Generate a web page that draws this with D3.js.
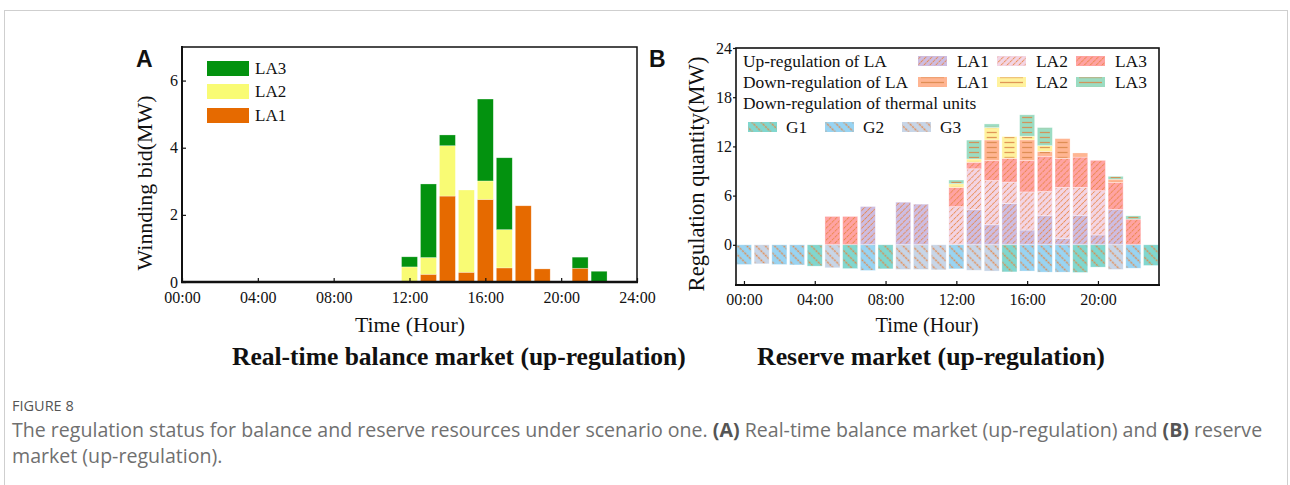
<!DOCTYPE html>
<html><head><meta charset="utf-8">
<script src="https://cdn.jsdelivr.net/npm/d3@7"></script>
<style>body{margin:0;background:#fff}svg{display:block}</style>
</head><body>
<svg id="c" width="1290" height="485"></svg>
<script>
// ---------- DATA: panel A (real-time balance market) ----------
const hoursA = [12, 13, 14, 15, 16, 17, 18, 19, 21, 22];
const aLA1 = [0, 0.23, 2.56, 0.29, 2.46, 0.42, 2.27, 0.39, 0.41, 0];
const aLA2 = [0.45, 0.50, 1.50, 2.45, 0.55, 1.14, 0, 0, 0, 0];
const aLA3 = [0.30, 2.19, 0.32, 0, 2.44, 2.14, 0, 0, 0.33, 0.32];
const xTicksA = [0, 4, 8, 12, 16, 20, 24];
const xTickLabelsA = ["00:00", "04:00", "08:00", "12:00", "16:00", "20:00", "24:00"];
const yTicksA = [0, 2, 4, 6];

// ---------- DATA: panel B (reserve market) ----------
const hoursB = [0,1,2,3,4,5,6,7,8,9,10,11,12,13,14,15,16,17,18,19,20,21,22,23];
const upLA1   = [0,0,0,0,0,0,0,4.67,0,5.2,4.96,0,0,4.27,2.44,5.05,1.8,3.54,0.8,3.6,1.2,4.3,0,0];
const upLA2   = [0,0,0,0,0,0,0,0,0,0,0,0,4.65,5.0,5.4,2.6,4.65,2.96,6.2,3.4,5.4,0,0,0];
const upLA3   = [0,0,0,0,0,3.46,3.46,0,0,0,0,0,2.35,0.8,2.45,2.9,3.85,4.3,3.55,3.7,3.7,3.3,3.13,0];
const downLA1 = [0,0,0,0,0,0,0,0,0,0,0,0,0,0,2.5,0,2.5,0.6,2.4,0.5,0,0.4,0,0];
const downLA2 = [0,0,0,0,0,0,0,0,0,0,0,0,0.45,0.4,1.5,2.65,0.45,0.7,0,0,0,0,0,0];
const downLA3 = [0,0,0,0,0,0,0,0,0,0,0,0,0.45,2.3,0.45,0,2.6,2.2,0,0,0,0.35,0.4,0];
const G1 = [0,0,0,0,-2.6,0,-2.9,0,-2.93,0,0,0,0,0,0,-3.3,0,0,0,-3.37,-2.72,0,0,-2.52];
const G2 = [-2.4,0,-2.4,-2.45,0,0,0,-3.13,0,0,0,0,-2.93,0,0,0,-3.2,-3.33,-3.33,0,0,0,-2.85,0];
const G3 = [0,-2.32,0,0,0,-2.8,0,0,0,-3.0,-3.0,-3.05,0,-3.1,-3.2,0,0,0,0,0,0,-3.0,0,0];
const xTicksB = [0, 4, 8, 12, 16, 20];
const xTickLabelsB = ["00:00", "04:00", "08:00", "12:00", "16:00", "20:00"];
const yTicksB = [0, 6, 12, 18, 24];

// ---------- drawing ----------
const svg = d3.select("#c");
const serif = "'Liberation Serif','Times New Roman',serif";
const sans = "'Open Sans','Noto Sans',sans-serif";
const defs = svg.append("defs");

svg.append("rect").attr("x", 4.5).attr("y", 10.5).attr("width", 1283).attr("height", 500)
  .attr("fill", "none").attr("stroke", "#cfcfcf");

function fit(sel, target) {
  const w = sel.node().getComputedTextLength();
  const s = parseFloat(sel.attr("font-size"));
  sel.attr("font-size", (s * target / w).toFixed(2));
  return sel;
}
function title(x, y, t, len, rot) {
  const el = svg.append("text").attr("text-anchor", "middle").attr("font-family", serif)
    .attr("font-size", 20).attr("fill", "#111").text(t);
  el.attr("transform", rot ? `translate(${x},${y}) rotate(-90)` : `translate(${x},${y})`);
  return fit(el, len);
}

// ===== Panel A =====
const xA = d3.scaleLinear().domain([0, 24]).range([182, 637]);
const yA = d3.scaleLinear().domain([0, 7]).range([282, 47]);
const colA = {LA1: "#e66a00", LA2: "#f9fb74", LA3: "#03920f"};
const rowsA = hoursA.map((h, i) => ({h, LA1: aLA1[i], LA2: aLA2[i], LA3: aLA3[i]}));
const stA = d3.stack().keys(["LA1", "LA2", "LA3"])(rowsA);
const gA = svg.append("g");
stA.forEach(layer => {
  gA.selectAll(null).data(layer.filter(d => d[1] - d[0] > 0)).enter().append("rect")
    .attr("x", d => xA(d.data.h - 0.42))
    .attr("width", d => xA(d.data.h + 0.42) - xA(d.data.h - 0.42))
    .attr("y", d => yA(d[1]))
    .attr("height", d => yA(d[0]) - yA(d[1]))
    .attr("fill", colA[layer.key])
    .attr("stroke", "rgba(255,255,255,0.45)").attr("stroke-width", 0.6);
});
// axes A
const axA = svg.append("g").attr("transform", "translate(0,282)")
  .call(d3.axisBottom(xA).tickValues(xTicksA).tickFormat((d, i) => xTickLabelsA[i]).tickSize(-4).tickPadding(10));
const ayA = svg.append("g").attr("transform", "translate(182,0)")
  .call(d3.axisLeft(yA).tickValues(yTicksA).tickFormat(d3.format("d")).tickSize(-4).tickPadding(4));
[axA, ayA].forEach(a => {
  a.select(".domain").remove();
  a.selectAll("text").attr("font-family", serif).attr("font-size", 16).attr("fill", "#111");
  a.selectAll("line").attr("stroke", "#111").attr("stroke-width", 1.2);
});
svg.append("rect").attr("x", 182).attr("y", 47).attr("width", 455).attr("height", 235)
  .attr("fill", "none").attr("stroke", "#111").attr("stroke-width", 1.5);
svg.append("line").attr("x1", 182).attr("x2", 182).attr("y1", 46).attr("y2", 283).attr("stroke", "#111").attr("stroke-width", 2);
svg.append("line").attr("x1", 181).attr("x2", 638).attr("y1", 282).attr("y2", 282).attr("stroke", "#111").attr("stroke-width", 2.4);
// legend A
[["LA3", 61], ["LA2", 84], ["LA1", 108]].forEach(([k, y]) => {
  svg.append("rect").attr("x", 207).attr("y", y).attr("width", 42).attr("height", 15).attr("fill", colA[k]);
  svg.append("text").attr("x", 255).attr("y", y + 13).attr("font-family", serif).attr("font-size", 17).attr("fill", "#111").text(k);
});
title(410, 332, "Time (Hour)", 110, false);
title(152, 183, "Winnding bid(MW)", 175, true);
svg.append("text").attr("x", 136).attr("y", 67).attr("font-family", "'Liberation Sans',Arial,sans-serif")
  .attr("font-weight", "bold").attr("font-size", 23).attr("fill", "#111").text("A");

// ===== Panel B =====
const xB = d3.scaleLinear().domain([-0.45, 23.45]).range([736, 1159]);
const yB = d3.scaleLinear().domain([-4.9, 24]).range([285, 48]);
const hatch = "#e8823e";
function linePattern(id, angle, size, width, dash) {
  const p = defs.append("pattern").attr("id", id).attr("patternUnits", "userSpaceOnUse")
    .attr("width", size).attr("height", size).attr("patternTransform", `rotate(${angle})`);
  const l = p.append("line").attr("x1", size / 2).attr("x2", size / 2).attr("y1", 0).attr("y2", size)
    .attr("stroke", hatch).attr("stroke-width", width);
  if (dash) l.attr("stroke-dasharray", dash);
}
linePattern("pUp", 45, 4.2, 1, "1.6,0.8");
linePattern("pG", -45, 6.5, 1.5, "2.2,0.9");
const ph = defs.append("pattern").attr("id", "pDown").attr("patternUnits", "userSpaceOnUse")
  .attr("width", 10).attr("height", 5);
ph.append("line").attr("x1", 0).attr("x2", 10).attr("y1", 2.5).attr("y2", 2.5).attr("stroke", "#d9874a").attr("stroke-width", 1.3);

const series = [
  {key: "upLA1", vals: upLA1, color: "#cdbde3", pat: "pUp"},
  {key: "upLA2", vals: upLA2, color: "#f3d5e5", pat: "pUp"},
  {key: "upLA3", vals: upLA3, color: "#ffa3a3", pat: "pUp"},
  {key: "downLA1", vals: downLA1, color: "#ffb592", pat: "pDown"},
  {key: "downLA2", vals: downLA2, color: "#fff29e", pat: "pDown"},
  {key: "downLA3", vals: downLA3, color: "#9bdcc2", pat: "pDown"},
  {key: "G1", vals: G1, color: "#80d7cf", pat: "pG"},
  {key: "G2", vals: G2, color: "#98d4f3", pat: "pG"},
  {key: "G3", vals: G3, color: "#c7d5e7", pat: "pG"}
];
const rowsB = hoursB.map((h, i) => {
  const r = {h};
  series.forEach(s => r[s.key] = s.vals[i]);
  return r;
});
const stB = d3.stack().keys(series.map(s => s.key)).offset(d3.stackOffsetDiverging)(rowsB);
const gB = svg.append("g");
stB.forEach((layer, li) => {
  const s = series[li];
  const segs = layer.filter(d => Math.abs(d[1] - d[0]) > 0);
  const x0 = d => xB(d.data.h - 0.425), x1 = d => xB(d.data.h + 0.425);
  const top = d => yB(Math.max(d[0], d[1])), bot = d => yB(Math.min(d[0], d[1]));
  gB.selectAll(null).data(segs).enter().append("rect")
    .attr("x", x0).attr("width", d => x1(d) - x0(d))
    .attr("y", top).attr("height", d => bot(d) - top(d))
    .attr("fill", s.color).attr("stroke", "rgba(255,255,255,0.5)").attr("stroke-width", 0.6);
  const inset = s.pat === "pDown" ? 2.5 : 0.6;
  gB.selectAll(null).data(segs).enter().append("rect")
    .attr("x", d => x0(d) + inset).attr("width", d => x1(d) - x0(d) - 2 * inset)
    .attr("y", d => top(d) + 0.6).attr("height", d => Math.max(0, bot(d) - top(d) - 1.2))
    .attr("fill", `url(#${s.pat})`).attr("opacity", 0.85);
});
// axes B
const axB = svg.append("g").attr("transform", "translate(0,285)")
  .call(d3.axisBottom(xB).tickValues(xTicksB).tickFormat((d, i) => xTickLabelsB[i]).tickSize(-4).tickPadding(9));
const ayB = svg.append("g").attr("transform", "translate(736,0)")
  .call(d3.axisLeft(yB).tickValues(yTicksB).tickFormat(d3.format("d")).tickSize(3).tickPadding(1));
[axB, ayB].forEach(a => {
  a.select(".domain").remove();
  a.selectAll("text").attr("font-family", serif).attr("font-size", 16).attr("fill", "#111");
  a.selectAll("line").attr("stroke", "#111").attr("stroke-width", 1.2);
});
svg.append("rect").attr("x", 736).attr("y", 48).attr("width", 423).attr("height", 237)
  .attr("fill", "none").attr("stroke", "#111").attr("stroke-width", 1.6);
svg.append("line").attr("x1", 735).attr("x2", 1160).attr("y1", 285).attr("y2", 285).attr("stroke", "#111").attr("stroke-width", 2.2);
// legend B
function swatch(x, y, s) {
  svg.append("rect").attr("x", x).attr("y", y).attr("width", 29).attr("height", 10).attr("fill", s.color);
  const ins = s.pat === "pDown" ? 3 : 0.5;
  svg.append("rect").attr("x", x + ins).attr("y", y + 0.5).attr("width", 29 - 2 * ins).attr("height", 9)
    .attr("fill", `url(#${s.pat})`).attr("opacity", 0.85);
}
function ltext(x, y, t) {
  svg.append("text").attr("x", x).attr("y", y).attr("font-family", serif).attr("font-size", 17.4).attr("fill", "#111").text(t);
}
ltext(743, 67, "Up-regulation of LA");
ltext(743, 88, "Down-regulation of LA");
ltext(743, 109, "Down-regulation of thermal units");
const lx = [918, 997, 1076], lt = [957, 1036, 1115], names = ["LA1", "LA2", "LA3"];
[0, 1, 2].forEach(i => {
  swatch(lx[i], 56, series[i]); ltext(lt[i], 67, names[i]);
  swatch(lx[i], 77, series[3 + i]); ltext(lt[i], 88, names[i]);
});
const gx = [748, 825, 902], gt = [786, 863, 940], gn = ["G1", "G2", "G3"];
[0, 1, 2].forEach(i => { swatch(gx[i], 122, series[6 + i]); ltext(gt[i], 133, gn[i]); });

title(927, 332, "Time (Hour)", 103, false);
title(704, 174, "Regulation quantity(MW)", 235, true);
svg.append("text").attr("x", 649).attr("y", 67).attr("font-family", "'Liberation Sans',Arial,sans-serif")
  .attr("font-weight", "bold").attr("font-size", 23).attr("fill", "#111").text("B");

// ===== titles =====
const t1 = svg.append("text").attr("x", 232).attr("y", 365).attr("font-family", serif).attr("font-weight", "bold")
  .attr("font-size", 22).attr("fill", "#111").text("Real-time balance market (up-regulation)");
fit(t1, 454);
const t2 = svg.append("text").attr("x", 757).attr("y", 365).attr("font-family", serif).attr("font-weight", "bold")
  .attr("font-size", 22).attr("fill", "#111").text("Reserve market (up-regulation)");
fit(t2, 348);

// ===== caption =====
svg.append("text").attr("x", 12).attr("y", 411).attr("font-family", sans).attr("font-size", 14.5)
  .attr("fill", "#555").text("FIGURE 8");
const c1 = svg.append("text").attr("x", 12).attr("y", 437).attr("font-family", sans).attr("font-size", 16).attr("fill", "#707070");
c1.append("tspan").text("The regulation status for balance and reserve resources under scenario one. ");
c1.append("tspan").attr("font-weight", "bold").attr("fill", "#555").text("(A)");
c1.append("tspan").text(" Real-time balance market (up-regulation) and ");
c1.append("tspan").attr("font-weight", "bold").attr("fill", "#555").text("(B)");
c1.append("tspan").text(" reserve");
const sz = parseFloat(c1.attr("font-size")) * 1251 / c1.node().getComputedTextLength();
c1.attr("font-size", sz.toFixed(2));
svg.append("text").attr("x", 12).attr("y", 463).attr("font-family", sans).attr("font-size", sz.toFixed(2))
  .attr("fill", "#707070").text("market (up-regulation).");
</script>
</body></html>
